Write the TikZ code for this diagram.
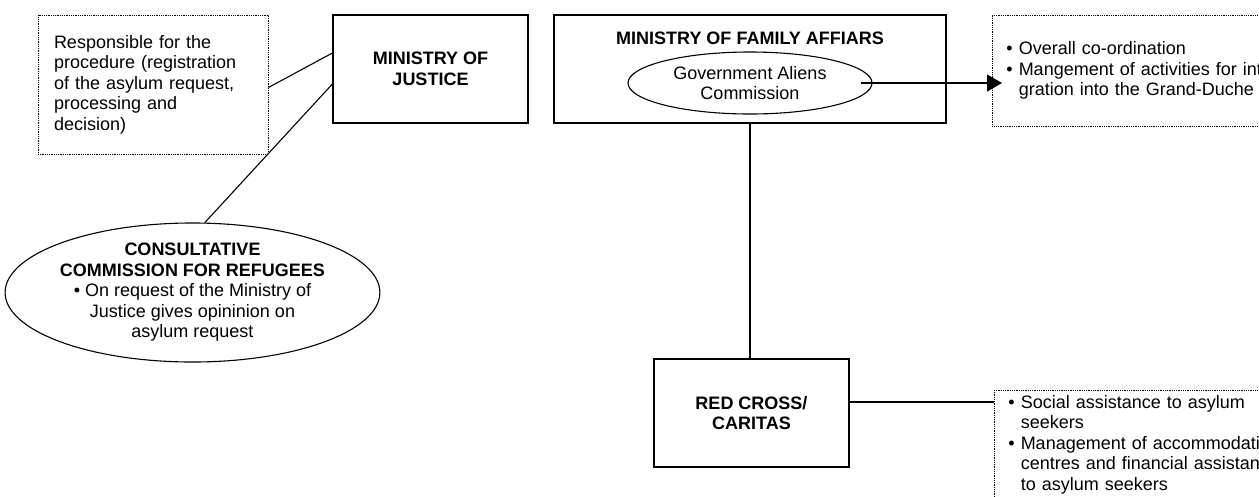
\documentclass[tikz,border=0pt]{standalone}
\usepackage{fontspec}
\setmainfont{Liberation Sans}
\usetikzlibrary{arrows.meta,shapes.geometric}

\begin{document}
\begin{tikzpicture}[x=1pt, y=-1pt, >={Triangle[length=15pt,width=17pt]},
    font=\fontsize{18}{20.5}\selectfont,
    orgbox/.style={draw, line width=1.2pt, inner sep=0pt, align=center, font=\fontsize{18}{20.5}\selectfont\bfseries},
    notebox/.style={draw, line width=0.9pt, dash pattern=on 0.9pt off 0.9pt, inner sep=0pt, align=left},
    orgoval/.style={draw, ellipse, line width=1.1pt, inner sep=0pt, align=center},
    link/.style={line width=1.1pt}]
    \useasboundingbox (0,0) rectangle (1259,496);
    \clip (0,0) rectangle (1259,496);

    % justice side
    \node[notebox, text width=198, inner xsep=16, minimum height=139] (procnote) at (153,84.5)
        {Responsible for the\\procedure (registration\\of the asylum request,\\processing and\\decision)};
    \node[orgbox, minimum width=195, minimum height=108] (justice) at (430.5,69) {MINISTRY OF\\JUSTICE};
    \node[orgoval, minimum width=367, minimum height=135] (consult) at (192.5,292.5)
        {\textbf{CONSULTATIVE}\\\textbf{COMMISSION FOR REFUGEES}\\• On request of the Ministry of\\Justice gives opininion on\\asylum request};

    % family affairs
    \node[orgbox, minimum width=392, minimum height=108] (family) at (750,69) {};
    \node[font=\fontsize{18}{20.5}\selectfont\bfseries] (familytitle) at (750,38) {MINISTRY OF FAMILY AFFIARS};
    \node[orgoval, minimum width=244, minimum height=62] (aliens) at (750,83) {Government Aliens\\Commission};
    \node[notebox, anchor=west, text width=320, inner xsep=14, minimum height=111] (familynote) at (992,70.5)
        {• Overall co-ordination\\• Mangement of activities for inte-\\\hphantom{• }gration into the Grand-Duche};

    % red cross
    \node[orgbox, minimum width=195, minimum height=108] (redcross) at (751.5,413) {RED CROSS/\\CARITAS};
    \node[notebox, anchor=north west, text width=330, inner xsep=14, inner ysep=5] (reliefnote) at (994,390)
        {• Social assistance to asylum\\\hphantom{• }seekers\\• Management of accommodation\\\hphantom{• }centres and financial assistance\\\hphantom{• }to asylum seekers};

    % connectors
    \draw[link] ([yshift=-3]procnote.east) -- ([yshift=16]justice.west);
    \draw[link] ([yshift=-15]justice.west) -- (consult.80);
    \draw[link, ->] ([xshift=-12]aliens.east) -- ([xshift=10]aliens.east -| familynote.west);
    \draw[link] (family.south) -- (family.south |- redcross.north);
    \draw[link] ([yshift=11]redcross.east) -- ([yshift=11]redcross.east -| reliefnote.west);
\end{tikzpicture}
\end{document}
